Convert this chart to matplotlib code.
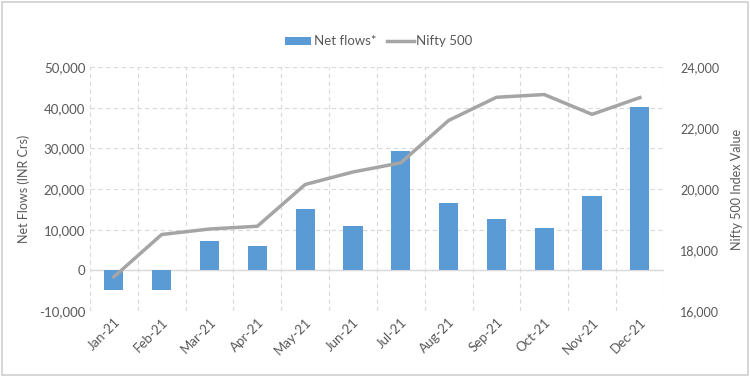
import numpy as np
import matplotlib
matplotlib.use('Agg')
import matplotlib.pyplot as plt
from matplotlib.patches import Rectangle
from matplotlib.ticker import FuncFormatter

# Data
months = ['Jan-21', 'Feb-21', 'Mar-21', 'Apr-21', 'May-21', 'Jun-21',
          'Jul-21', 'Aug-21', 'Sep-21', 'Oct-21', 'Nov-21', 'Dec-21']
net_flows = [-4900, -4750, 7250, 6050, 15050, 10800,
             29250, 16600, 12750, 10300, 18350, 40200]
nifty500 = [17120, 18510, 18690, 18780, 20150, 20560,
            20860, 22250, 23010, 23100, 22450, 23000]

txt = '#595959'
plt.rcParams['font.family'] = ['Lato', 'DejaVu Sans']

fig = plt.figure(figsize=(7.5, 3.77), dpi=100)
ax = fig.add_axes([0.12, 0.175, 0.765, 0.647])
x = np.arange(len(months))

ax.bar(x, net_flows, width=0.4, color='#5B9BD5', label='Net flows*', zorder=3)
ax.set_ylim(-10000, 50000)
ax.set_yticks(np.arange(-10000, 50001, 10000))
ax.yaxis.set_major_formatter(FuncFormatter(lambda v, p: '{:,.0f}'.format(v)))
ax.set_xlim(-0.5, len(months) - 0.5)
ax.set_xticks(x)
ax.set_xticklabels(months, rotation=45, ha='right', rotation_mode='anchor')
ax.set_xticks(np.arange(-0.5, len(months), 1), minor=True)
ax.grid(False)
ax.grid(True, which='minor', axis='x', color='#D9D9D9', linestyle=(0, (4, 3)), linewidth=0.8)
ax.grid(True, which='major', axis='y', color='#D9D9D9', linestyle=(0, (4, 3)), linewidth=0.8)
ax.axhline(0, color='#D9D9D9', linewidth=1.0, zorder=2)
ax.set_ylabel('Net Flows (INR Crs)', color=txt, fontsize=9, labelpad=6)
ax.tick_params(axis='both', which='both', length=0, colors=txt, labelsize=9.5)
for s in ax.spines.values():
    s.set_visible(False)

ax2 = ax.twinx()
ax2.plot(x, nifty500, color='#A5A5A5', linewidth=2.5, label='Nifty 500', zorder=4)
ax2.set_ylim(16000, 24000)
ax2.set_yticks(np.arange(16000, 24001, 2000))
ax2.yaxis.set_major_formatter(FuncFormatter(lambda v, p: '{:,.0f}'.format(v)))
ax2.set_ylabel('Nifty 500 Index Value', color=txt, fontsize=9, labelpad=8)
ax2.tick_params(axis='y', length=0, colors=txt, labelsize=9, pad=12)
for s in ax2.spines.values():
    s.set_visible(False)

h1, l1 = ax.get_legend_handles_labels()
h2, l2 = ax2.get_legend_handles_labels()
fig.legend(h1 + h2, l1 + l2, loc='center', bbox_to_anchor=(0.505, 0.89), ncol=2,
           frameon=False, fontsize=9.5, labelcolor=txt, handlelength=2.0,
           handleheight=0.5, handletextpad=0.2, columnspacing=0.8)

fig.patches.append(Rectangle((0.003, 0.005), 0.994, 0.99, transform=fig.transFigure,
                             fill=False, edgecolor='#D0D0D0', linewidth=1.2))

fig.savefig('out.png', dpi=100)
